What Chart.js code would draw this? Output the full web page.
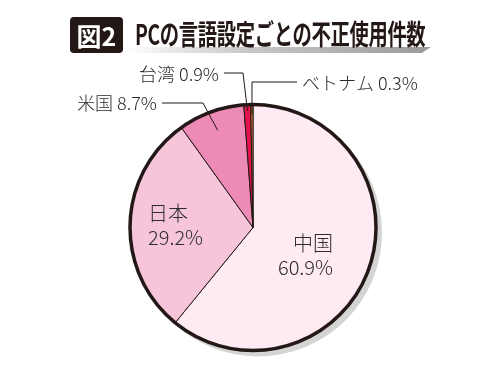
<!DOCTYPE html>
<html>
<head>
<meta charset="utf-8">
<script src="https://cdn.jsdelivr.net/npm/chart.js@4.4.1/dist/chart.umd.min.js"></script>
<style>
  body { margin: 0; background: #fff; }
  #wrap { position: relative; width: 500px; height: 375px; overflow: hidden; }
  #pieChart { position: absolute; left: 0; top: 0; }
  .fig-no {
    position: absolute; left: 70px; top: 17px; width: 53px; height: 36px;
    background: #231815; border-radius: 4px; color: #fff;
    font: 700 25px "Noto Sans CJK JP", sans-serif; line-height: 36px; text-align: center;
  }
  .title-bar {
    position: absolute; left: 123px; top: 47px; width: 308px; height: 6px;
    background: linear-gradient(to right, #ffffff, #c8c8c8 40%, #9a9a9a);
    clip-path: polygon(0 0, 100% 0, 97% 100%, 0 100%);
  }
  .title-text {
    position: absolute; left: 135px; top: 13px; white-space: nowrap;
    font: 700 28px "Noto Sans CJK JP", sans-serif; color: #231815;
    transform: scaleX(0.69); transform-origin: left top; letter-spacing: -0.5px;
  }
</style>
</head>
<body>
<div id="wrap">
  <canvas id="pieChart" width="500" height="375"></canvas>
  <div class="title-bar"></div>
  <div class="fig-no">図2</div>
  <div class="title-text">PCの言語設定ごとの不正使用件数</div>
</div>
<script type="text/javascript">
  // slices, clockwise from 12 o'clock
  var categories = ["中国", "日本", "米国", "台湾", "ベトナム"];
  var shares = [60.9, 29.2, 8.7, 0.9, 0.3];
  var shareLabels = ["60.9%", "29.2%", "8.7%", "0.9%", "0.3%"];
  var sliceColors = ["#fdeaf2", "#f6c5da", "#ee8ab6", "#e4134f", "#e8803a"];

  // label placement: inside labels are two lines, outside ones get a leader line
  var labelLayout = [
    { mode: "inside", x: 333, y: 243, align: "right" },
    { mode: "inside", x: 148, y: 213, align: "left" },
    { mode: "outside", x: 157, y: 103, align: "right", elbowX: 203, elbowY: 103, depth: 0.84 },
    { mode: "outside", x: 219, y: 74, align: "right", elbowX: 243, elbowY: 73, depth: 0.95 },
    { mode: "outside", x: 302, y: 83, align: "left", elbowX: 252, elbowY: 82, depth: 0.92 }
  ];

  var inkColor = "#231815";

  var pieDecor = {
    id: "pieDecor",
    beforeDatasetsDraw: function (chart) {
      var arc = chart.getDatasetMeta(0).data[0];
      var ctx = chart.ctx;
      ctx.save();
      ctx.fillStyle = "#d4d4d4";
      ctx.beginPath();
      ctx.arc(arc.x + 5, arc.y + 5, arc.outerRadius + 1, 0, Math.PI * 2);
      ctx.fill();
      ctx.restore();
    },
    afterDatasetsDraw: function (chart) {
      var meta = chart.getDatasetMeta(0);
      var ctx = chart.ctx;
      var first = meta.data[0];
      ctx.save();
      // heavy outer ring
      ctx.strokeStyle = inkColor;
      ctx.lineWidth = 3.5;
      ctx.beginPath();
      ctx.arc(first.x, first.y, first.outerRadius, 0, Math.PI * 2);
      ctx.stroke();

      ctx.fillStyle = "#2b2b2b";
      ctx.textBaseline = "middle";
      meta.data.forEach(function (el, i) {
        var lay = labelLayout[i];
        ctx.textAlign = lay.align;
        if (lay.mode === "inside") {
          ctx.font = "300 20px 'Noto Sans CJK JP', sans-serif";
          ctx.fillText(categories[i], lay.x, lay.y);
          ctx.fillText(shareLabels[i], lay.x, lay.y + 24);
        } else {
          var mid = (el.startAngle + el.endAngle) / 2;
          var ax = el.x + Math.cos(mid) * el.outerRadius * lay.depth;
          var ay = el.y + Math.sin(mid) * el.outerRadius * lay.depth;
          ctx.strokeStyle = inkColor;
          ctx.lineWidth = 1;
          ctx.beginPath();
          ctx.moveTo(ax, ay);
          ctx.lineTo(lay.elbowX, lay.elbowY);
          ctx.lineTo(lay.align === "right" ? lay.x + 5 : lay.x - 5, lay.elbowY);
          ctx.stroke();
          ctx.font = "300 18px 'Noto Sans CJK JP', sans-serif";
          ctx.fillText(categories[i] + " " + shareLabels[i], lay.x, lay.y);
        }
      });
      ctx.restore();
    }
  };

  var chart = new Chart("pieChart", {
    type: "pie",
    data: {
      labels: categories,
      datasets: [
        {
          data: shares,
          backgroundColor: sliceColors,
          borderColor: inkColor,
          borderWidth: 1
        }
      ]
    },
    options: {
      responsive: false,
      animation: false,
      layout: {
        padding: { left: 129, right: 123, top: 104, bottom: 24 }
      },
      plugins: {
        legend: { display: false },
        tooltip: { enabled: false }
      }
    },
    plugins: [pieDecor]
  });
</script>
</body>
</html>
